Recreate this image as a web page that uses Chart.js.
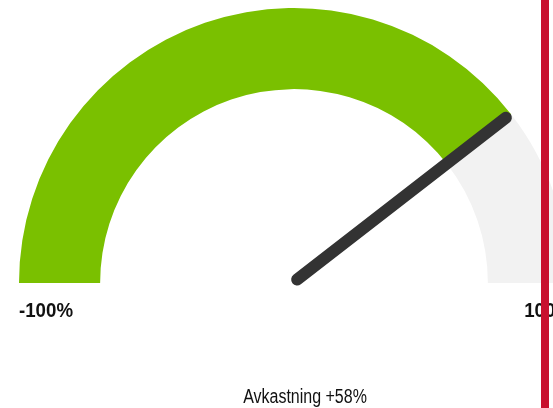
<!DOCTYPE html>
<html>
<head>
<meta charset="utf-8">
<script src="https://cdn.jsdelivr.net/npm/chart.js@4/dist/chart.umd.min.js"></script>
<style>
  html, body { margin: 0; padding: 0; background: #fff; }
  #wrap { position: relative; width: 553px; height: 408px; overflow: hidden; }
  #gauge { position: absolute; left: 0; top: 0; }
  #edge { position: absolute; left: 541px; top: 0; width: 8px; height: 408px; background: #c8102e; }
</style>
</head>
<body>
<div id="wrap">
  <canvas id="gauge" width="588" height="408"></canvas>
  <div id="edge"></div>
</div>
<script>
const gaugeMin = -100;
const gaugeMax = 100;
const gaugeValue = 58;
const tickLabels = ["-100%", "100%"];
const titleText = "Avkastning +58%";
const segmentColors = ["#7ac000", "#f2f2f2"];

// no condensed font installed, so squeeze a regular one horizontally
function narrowText(ctx, text, x, y, align, squeeze) {
	ctx.save();
	ctx.translate(x, y);
	ctx.scale(squeeze, 1);
	ctx.textAlign = align;
	ctx.fillText(text, 0, 0);
	ctx.restore();
}

// needle + end labels + caption
const gaugeExtras = {
	id: "gaugeExtras",
	afterDatasetsDraw(chart) {
		const arc = chart.getDatasetMeta(0).data[0];
		if (!arc) return;
		const { x, y, outerRadius } = arc;
		const ctx = chart.ctx;
		const frac = (gaugeValue - gaugeMin) / (gaugeMax - gaugeMin);
		const ang = Math.PI + frac * Math.PI;
		const c = Math.cos(ang), s = Math.sin(ang);

		ctx.save();
		ctx.strokeStyle = "#333333";
		ctx.lineWidth = 12;
		ctx.lineCap = "round";
		ctx.beginPath();
		ctx.moveTo(x + 4 * c, y - 1 + 4 * s);
		ctx.lineTo(x + outerRadius * 0.975 * c, y - 1 + outerRadius * 0.975 * s);
		ctx.stroke();

		ctx.fillStyle = "#111";
		ctx.textBaseline = "alphabetic";
		ctx.font = "bold 21px 'Liberation Sans', Arial, sans-serif";
		narrowText(ctx, tickLabels[0], x - outerRadius, y + 34, "left", 0.89);
		narrowText(ctx, tickLabels[1], x + outerRadius + 3, y + 34, "right", 0.89);

		ctx.font = "19.5px 'Liberation Sans', Arial, sans-serif";
		narrowText(ctx, titleText, 305, 403, "center", 0.82);
		ctx.restore();
	}
};

new Chart(document.getElementById("gauge"), {
	type: "doughnut",
	data: {
		labels: ["value", "rest"],
		datasets: [{
			data: [gaugeValue - gaugeMin, gaugeMax - gaugeValue],
			backgroundColor: segmentColors,
			borderWidth: 0
		}]
	},
	options: {
		responsive: false,
		animation: false,
		rotation: -90,
		circumference: 180,
		cutout: "70.5%",
		layout: { padding: { left: 18, right: 18, top: 8, bottom: 125 } },
		plugins: { legend: { display: false }, tooltip: { enabled: false } }
	},
	plugins: [gaugeExtras]
});
</script>
</body>
</html>
